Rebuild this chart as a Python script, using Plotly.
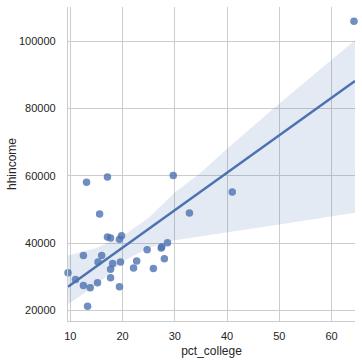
import plotly.graph_objects as go

pct_college = [64.3, 9.55, 11.0, 12.5, 12.5, 13.1, 13.3, 13.8, 15.2, 15.3, 15.6, 16.0,
               17.1, 17.1, 17.7, 17.7, 17.7, 18.1, 19.4, 19.8, 19.4, 19.6, 22.1, 22.7,
               24.7, 25.9, 27.4, 27.5, 28.0, 28.6, 29.7, 32.8, 41.0]
hhincome = [105900, 31200, 29200, 27400, 36300, 58100, 21200, 26700, 28200, 34400, 48600, 36300,
            59600, 41800, 41500, 32200, 29700, 33900, 41100, 42200, 27000, 34400, 32600, 34700,
            38000, 32400, 38500, 38900, 35300, 40100, 60100, 48900, 55200]

band_x = [9.55, 15, 20, 25, 30, 35, 40, 50, 64.5]
fit_y = [27000, 33070, 38630, 44200, 49760, 55330, 60890, 72020, 88160]
band_upper = [36300, 38500, 42000, 47500, 55000, 61000, 68000, 81500, 100300]
band_lower = [21800, 27500, 34500, 38500, 40800, 42000, 43200, 45500, 49000]

x_ticks = [10, 20, 30, 40, 50, 60]
y_ticks = [20000, 40000, 60000, 80000, 100000]

blue = "#4C72B0"
font_family = "Liberation Sans, Arial"
fig = go.Figure()
fig.add_trace(go.Scatter(x=band_x + band_x[::-1], y=band_upper + band_lower[::-1],
                         fill="toself", fillcolor="rgba(76,114,176,0.15)",
                         line=dict(width=0), mode="lines", hoverinfo="skip", showlegend=False))
fig.add_trace(go.Scatter(x=pct_college, y=hhincome, mode="markers",
                         marker=dict(color=blue, opacity=0.8, size=7.5, line=dict(width=0)),
                         cliponaxis=False, showlegend=False))
fig.add_trace(go.Scatter(x=band_x, y=fit_y, mode="lines",
                         line=dict(color=blue, width=2.5), showlegend=False))

axis_common = dict(showgrid=True, gridcolor="#cccccc", gridwidth=1, zeroline=False,
                   showline=True, linecolor="#cccccc", linewidth=1.2, ticks="",
                   tickfont=dict(family=font_family, size=11, color="#262626"),
                   title_font=dict(family=font_family, size=12, color="#262626"))
fig.update_xaxes(range=[9.55, 64.5], tickvals=x_ticks, title_text="pct_college",
                 title_standoff=5, ticklabelstandoff=5, **axis_common)
fig.update_yaxes(range=[16830, 110160], tickvals=y_ticks, tickformat="d",
                 ticklabelstandoff=9, **axis_common)
fig.add_annotation(text="hhincome", xref="paper", yref="paper", x=-0.195, y=0.5,
                   xanchor="center", yanchor="middle", textangle=-90, showarrow=False,
                   font=dict(family=font_family, size=12, color="#262626"))
fig.update_layout(width=362, height=362, margin=dict(l=68, r=7, t=7, b=41, autoexpand=False),
                  plot_bgcolor="white", paper_bgcolor="white")
fig.write_html("out.html", post_script="document.body.style.margin='0';",
               config={"displayModeBar": False})
